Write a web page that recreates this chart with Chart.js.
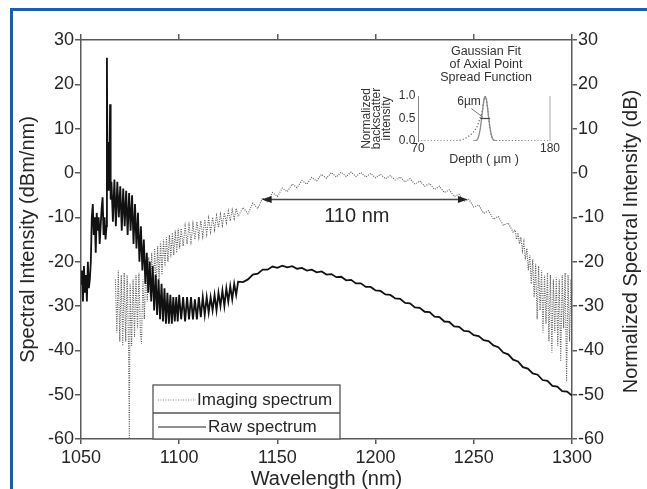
<!DOCTYPE html>
<html>
<head>
<meta charset="utf-8">
<title>Spectrum</title>
<script src="https://cdn.jsdelivr.net/npm/chart.js@4.4.1/dist/chart.umd.min.js"></script>
<style>
  html, body { margin: 0; padding: 0; background: #fff; }
  #wrap { position: relative; width: 647px; height: 489px; overflow: hidden; background: #fff; }
  #frame { position: absolute; left: 10px; top: 8px; right: -10px; bottom: -10px;
           border-top: 3px solid #1d5ea6; border-left: 3px solid #1d5ea6; }
  #main { position: absolute; left: 0; top: 0; }
  #inset { position: absolute; left: 350px; top: 40px; }
</style>
</head>
<body>
<div id="wrap">
  <div id="frame"></div>
  <canvas id="main" width="647" height="489"></canvas>
  <canvas id="inset" width="215" height="132"></canvas>
</div>
<script>
// Main plot: wavelength axis and tick labels
const xTicks = [1050, 1100, 1150, 1200, 1250, 1300];
const yTicks = [-60, -50, -40, -30, -20, -10, 0, 10, 20, 30];

// Raw spectrum (solid black)
const rawNm = [
  1050, 1050.5, 1051, 1051.5, 1052, 1052.5, 1053, 1053.5, 1054, 1054.5,
  1055, 1055.5, 1056, 1056.5, 1057, 1057.5, 1058, 1058.5,
  1059, 1059.5, 1060, 1060.5, 1061, 1061.5, 1062, 1062.5,
  1063, 1063.2, 1063.5, 1063.8, 1064.1, 1064.5, 1064.8, 1065.1,
  1065.5, 1066.25, 1067, 1067.75, 1068.5, 1069.25, 1070, 1070.75, 1071.5,
  1072.25, 1073, 1073.75, 1074.5, 1075.25, 1076, 1076.75, 1077.5, 1078.25,
  1079, 1079.75, 1080.5, 1081.25, 1082, 1082.75, 1083.5, 1084.25, 1085,
  1085.75, 1086.5, 1087.25, 1088, 1088.75, 1089.5, 1090.25, 1091, 1091.75, 1092.5,
  1093.25, 1094, 1094.75, 1095.5, 1096.25, 1097, 1097.75, 1098.5, 1099.25, 1100,
  1101, 1102, 1103, 1104, 1105, 1106, 1107, 1108, 1109, 1110,
  1111, 1112, 1113, 1114, 1115, 1116, 1117, 1118, 1119, 1120,
  1121, 1122, 1123, 1124, 1125, 1126, 1127, 1128, 1129, 1130,
  1132.5, 1135, 1137.5, 1140, 1142.5, 1145, 1147.5, 1150, 1152.5, 1155,
  1157.5, 1160, 1162.5, 1165, 1167.5, 1170, 1172.5, 1175, 1177.5, 1180,
  1182.5, 1185, 1187.5, 1190, 1192.5, 1195, 1197.5, 1200, 1202.5, 1205,
  1207.5, 1210, 1212.5, 1215, 1217.5, 1220, 1222.5, 1225, 1227.5, 1230,
  1232.5, 1235, 1237.5, 1240, 1242.5, 1245, 1247.5, 1250, 1252.5, 1255,
  1257.5, 1260, 1262.5, 1265, 1267.5, 1270, 1272.5, 1275, 1277.5, 1280,
  1282.5, 1285, 1287.5, 1290, 1292.5, 1295, 1297.5, 1300
];
const rawDb = [
  -25, -22, -29, -21, -27, -23, -29, -20, -26, -24,
  -20, -10, -7, -14, -10, -18, -9, -13,
  -10, -16, -12, -8, -5.5, -14, -10, -15,
  -12, 26, -3, 7, -4, 2, 15.5, -6,
  -2, -11, -1.5, -12, -2, -10, -3, -13, -3.5,
  -12, -4, -14, -4.5, -13, -5, -16, -7, -17,
  -9, -20, -12, -22, -15, -25, -18, -27, -20,
  -29, -21, -31, -23, -32, -24, -33, -25, -33.5, -26,
  -34, -27, -34, -27.5, -34, -28, -33.5, -28, -33.5, -27.5,
  -33, -28, -33.5, -28, -33, -28, -33, -28.5, -33, -28,
  -32.5, -28, -32, -28, -31.5, -28, -31, -27.5, -31, -27,
  -30, -26.5, -30, -26, -29, -25.5, -28.5, -25, -27.5, -24.5,
  -24.6, -24.0, -22.9, -22.7, -21.8, -21.8, -21.1, -21.4, -20.9, -21.3,
  -21.0, -21.6, -21.4, -22.0, -21.8, -22.4, -22.2, -22.9, -22.8, -23.5,
  -23.4, -24.2, -24.1, -24.9, -24.9, -25.7, -25.7, -26.5, -26.6, -27.4,
  -27.5, -28.3, -28.4, -29.3, -29.4, -30.3, -30.4, -31.3, -31.4, -32.4,
  -32.5, -33.5, -33.6, -34.6, -34.7, -35.6, -35.7, -36.6, -36.8, -37.7,
  -37.9, -38.9, -39.3, -40.5, -40.9, -42.1, -42.5, -43.8, -44.1, -45.2,
  -45.5, -46.7, -46.9, -48.0, -48.2, -49.2, -49.3, -50.2
];

// Imaging spectrum (dotted grey)
const imgNm = [
  1067.5, 1068.25, 1069, 1069.75, 1070.5, 1071.25, 1072, 1072.75, 1073.5, 1074.25, 1074.6,
  1075, 1075.75, 1076.5, 1077.25, 1078, 1078.75, 1079.5, 1080.25, 1080.8, 1081.5, 1082.25,
  1083, 1083.75, 1084.5, 1085.25, 1086, 1086.75, 1087.5, 1088.25, 1089, 1089.75, 1090.5, 1091.25,
  1092, 1092.75, 1093.5, 1094.25, 1095, 1095.75, 1096.5, 1097.25, 1098, 1098.75, 1099.5, 1100.25,
  1101, 1102, 1103, 1104, 1105, 1106, 1107, 1108, 1109, 1110,
  1111, 1112, 1113, 1114, 1115, 1116, 1117, 1118, 1119, 1120,
  1121, 1122, 1123, 1124, 1125, 1126, 1127, 1128, 1129, 1130,
  1132.5, 1135, 1137.5, 1140, 1142.5, 1145, 1147.5, 1150, 1152.5, 1155,
  1157.5, 1160, 1162.5, 1165, 1167.5, 1170, 1172.5, 1175, 1177.5, 1180,
  1182.5, 1185, 1187.5, 1190, 1192.5, 1195, 1197.5, 1200, 1202.5, 1205,
  1207.5, 1210, 1212.5, 1215, 1217.5, 1220, 1222.5, 1225, 1227.5, 1230,
  1232.5, 1235, 1237.5, 1240, 1242.5, 1245, 1247.5, 1250, 1252.5, 1255,
  1257.5, 1260, 1262.5, 1265, 1267.5, 1270,
  1271, 1271.75, 1272.5, 1273.25, 1274, 1274.75, 1275.5, 1276.25, 1277, 1277.75,
  1278.5, 1279.25, 1280, 1280.75, 1281.5, 1282.25, 1283, 1283.75, 1284.5, 1285.25,
  1286, 1286.75, 1287.5, 1288.25, 1289, 1289.75, 1290.5, 1291.25, 1292, 1292.75,
  1293.5, 1294.25, 1295, 1295.75, 1296.5, 1297.25, 1298, 1298.75, 1299.5, 1300
];
const imgDb = [
  -24, -36, -22, -38, -23, -39, -22.5, -38, -23, -40, -60,
  -25, -39, -24, -37, -23, -35, -22.5, -36, -38.5, -24, -33,
  -21, -29, -19, -28, -18, -27, -17, -26, -16.5, -24, -15.5, -23,
  -15, -21, -14.5, -20, -14, -19, -13.5, -18.5, -13, -18, -12.5, -17,
  -12.5, -16.5, -12, -16, -11.8, -15.5, -11.5, -15, -11, -14.5,
  -10.8, -14.3, -10.5, -13.8, -10.2, -13.3, -10, -12.8, -9.6, -12.3,
  -9.3, -11.8, -9, -11.2, -8.6, -10.8, -8.3, -10.3, -8, -9.8,
  -7.8, -9.2, -6.8, -8.0, -5.6, -6.6, -4.4, -5.3, -3.4, -4.2,
  -2.5, -3.3, -1.7, -2.5, -1.0, -1.8, -0.3, -1.2, 0.1, -0.9,
  0.2, -0.8, 0.2, -0.8, 0.1, -0.9, -0.1, -1.1, -0.3, -1.3,
  -0.6, -1.6, -0.9, -2.0, -1.3, -2.5, -1.8, -3.0, -2.4, -3.7,
  -3.0, -4.4, -3.8, -5.3, -4.8, -6.4, -5.9, -7.7, -7.2, -9.1,
  -8.5, -10.4, -9.8, -11.8, -11.3, -13.3,
  -12.8, -15, -13.5, -16, -14.5, -17.5, -15.5, -19.5, -17, -22,
  -18.5, -25, -19.5, -28, -20.5, -33, -21, -31, -22, -36,
  -23, -34, -22.5, -38, -23, -40.5, -24, -36, -23.5, -39,
  -24, -42.5, -23, -35, -22.5, -47, -23, -38, -24, -31
];

// Bandwidth arrow (nm ends, level in dB) and its label
const arrowNm = [1142, 1247];
const arrowDb = -6;
const arrowLabel = '110 nm';

// Inset: axial point spread function
const insetXTicks = [70, 180];
const insetYTicks = [0, 0.5, 1];
const fitDepth = [116, 118, 119, 120, 121, 122, 123, 124, 125, 126, 127, 128, 129, 130, 131, 132, 133, 134, 136];
const fitValue = [0, 0.01, 0.02, 0.06, 0.15, 0.29, 0.5, 0.73, 0.93, 1.0, 0.93, 0.73, 0.5, 0.29, 0.15, 0.06, 0.02, 0.01, 0];
const measDepth = [70, 100, 104, 108, 111, 114, 117, 119, 121, 122, 123, 124, 125, 126, 127, 128, 129, 130, 131, 132, 134, 180];
const measValue = [0, 0, 0.01, 0.04, 0.08, 0.14, 0.22, 0.3, 0.45, 0.53, 0.6, 0.74, 0.92, 1.0, 0.93, 0.72, 0.48, 0.27, 0.12, 0.05, 0.01, 0];
const fwhmDepth = [122, 130];
const insetTitle = ['Gaussian Fit', 'of Axial Point', 'Spread Function'];

const FONT = '"Liberation Sans", Arial, Helvetica, sans-serif';
const AXIS = '#5a5a5a';
const TEXT = '#262626';

function toPoints(xs, ys) {
    if (xs.length !== ys.length) console.warn('length mismatch', xs.length, ys.length);
    return xs.map((x, i) => ({ x: x, y: ys[i] }));
}
function fixWidth(w) { return function (scale) { scale.width = w; }; }
function fixHeight(h) { return function (scale) { scale.height = h; }; }
function setTicks(list) { return function (scale) { scale.ticks = list.map(v => ({ value: v })); }; }

// Legend box, arrow annotation and right-hand title
const mainNotes = {
    id: 'mainNotes',
    afterDraw(chart) {
        const ctx = chart.ctx;
        const xs = chart.scales.x, ys = chart.scales.y, area = chart.chartArea;
        ctx.save();

        // arrow
        const ya = ys.getPixelForValue(arrowDb);
        const x1 = xs.getPixelForValue(arrowNm[0]), x2 = xs.getPixelForValue(arrowNm[1]);
        ctx.strokeStyle = '#444';
        ctx.fillStyle = '#222';
        ctx.lineWidth = 1.5;
        ctx.beginPath(); ctx.moveTo(x1 + 4, ya); ctx.lineTo(x2 - 4, ya); ctx.stroke();
        ctx.beginPath(); ctx.moveTo(x1, ya); ctx.lineTo(x1 + 10, ya - 3.5); ctx.lineTo(x1 + 10, ya + 3.5); ctx.closePath(); ctx.fill();
        ctx.beginPath(); ctx.moveTo(x2, ya); ctx.lineTo(x2 - 10, ya - 3.5); ctx.lineTo(x2 - 10, ya + 3.5); ctx.closePath(); ctx.fill();
        ctx.fillStyle = TEXT;
        ctx.font = '20px ' + FONT;
        ctx.textAlign = 'center';
        ctx.textBaseline = 'middle';
        ctx.fillText(arrowLabel, (x1 + x2) / 2 - 8, ya + 17);

        // legend
        const lx = 153, rx = 340, ty = 385, my = 413, by = area.bottom;
        ctx.fillStyle = '#fff';
        ctx.fillRect(lx, ty, rx - lx, by - ty);
        ctx.strokeStyle = '#555';
        ctx.lineWidth = 1.3;
        ctx.strokeRect(lx, ty, rx - lx, by - ty);
        ctx.beginPath(); ctx.moveTo(lx, my); ctx.lineTo(rx, my); ctx.stroke();
        ctx.strokeStyle = '#888';
        ctx.lineWidth = 1.2;
        ctx.setLineDash([1, 1.5]);
        ctx.beginPath(); ctx.moveTo(158, 400); ctx.lineTo(196, 400); ctx.stroke();
        ctx.setLineDash([]);
        ctx.strokeStyle = '#222';
        ctx.beginPath(); ctx.moveTo(158, 427); ctx.lineTo(206, 427); ctx.stroke();
        ctx.fillStyle = TEXT;
        ctx.font = '17px ' + FONT;
        ctx.textAlign = 'left';
        ctx.fillText('Imaging spectrum', 197, 400);
        ctx.fillText('Raw spectrum', 208, 427);

        // right axis title, reading bottom to top like the left one
        ctx.translate(chart.scales.yRight.right - 16, (area.top + area.bottom) / 2 + 2);
        ctx.rotate(-Math.PI / 2);
        ctx.font = '20px ' + FONT;
        ctx.textAlign = 'center';
        ctx.fillText('Normalized Spectral Intensity (dB)', 0, 0);
        ctx.restore();
    }
};

const edgeGrid = (len) => ({ drawOnChartArea: false, drawTicks: true, tickLength: len, color: AXIS, lineWidth: 1.5 });
const edgeBorder = { display: true, color: AXIS, width: 1.5 };
const tickFont = { family: FONT, size: 18 };

new Chart(document.getElementById('main'), {
    type: 'line',
    data: {
        datasets: [{
            label: 'Raw spectrum',
            data: toPoints(rawNm, rawDb),
            borderColor: '#111',
            borderWidth: 1.8,
            pointRadius: 0,
            tension: 0
        }, {
            label: 'Imaging spectrum',
            data: toPoints(imgNm, imgDb),
            borderColor: '#575757',
            borderWidth: 1.1,
            borderDash: [1, 1.3],
            pointRadius: 0,
            tension: 0
        }]
    },
    options: {
        responsive: false,
        animation: false,
        events: [],
        layout: { padding: 0 },
        plugins: { legend: { display: false }, tooltip: { enabled: false } },
        scales: {
            x: {
                type: 'linear', position: 'bottom', min: 1050, max: 1300,
                afterBuildTicks: setTicks(xTicks), afterFit: fixHeight(50),
                grid: edgeGrid(5), border: edgeBorder,
                ticks: { padding: 3, color: TEXT, font: tickFont, maxRotation: 0, callback: v => String(v) },
                title: { display: true, text: 'Wavelength (nm)', color: TEXT,
                         font: { family: FONT, size: 20, lineHeight: 1 }, padding: { top: 0, bottom: 0 } }
            },
            xTop: {
                type: 'linear', position: 'top', min: 1050, max: 1300,
                afterBuildTicks: setTicks(xTicks), afterFit: fixHeight(40),
                grid: edgeGrid(6), border: edgeBorder,
                ticks: { display: false }
            },
            y: {
                type: 'linear', position: 'left', min: -60, max: 30,
                afterBuildTicks: setTicks(yTicks), afterFit: fixWidth(81),
                grid: edgeGrid(6), border: edgeBorder,
                ticks: { padding: 1, color: TEXT, font: tickFont, callback: v => String(v) },
                title: { display: true, text: 'Spectral Intensity (dBm/nm)', color: TEXT,
                         font: { family: FONT, size: 20, lineHeight: 1 }, padding: { top: 18, bottom: 0 } }
            },
            yRight: {
                type: 'linear', position: 'right', min: -60, max: 30,
                afterBuildTicks: setTicks(yTicks), afterFit: fixWidth(75),
                grid: edgeGrid(5), border: edgeBorder,
                ticks: { padding: 1, color: TEXT, font: tickFont, callback: v => String(v) }
            }
        }
    },
    plugins: [mainNotes]
});

// Inset annotations: title, right frame, half-maximum bar and the 6 µm label
const insetNotes = {
    id: 'insetNotes',
    afterDraw(chart) {
        const ctx = chart.ctx;
        const xs = chart.scales.x, ys = chart.scales.y, a = chart.chartArea;
        ctx.save();
        ctx.fillStyle = '#333';
        ctx.font = '12.5px ' + FONT;
        ctx.textAlign = 'center';
        ctx.textBaseline = 'middle';
        insetTitle.forEach((t, i) => ctx.fillText(t, (a.left + a.right) / 2 + 2, 12 + i * 13));

        ctx.strokeStyle = '#aaa';
        ctx.lineWidth = 1;
        ctx.beginPath(); ctx.moveTo(a.right, ys.getPixelForValue(0)); ctx.lineTo(a.right, ys.getPixelForValue(1)); ctx.stroke();

        ctx.strokeStyle = '#444';
        ctx.lineWidth = 1.2;
        const yh = ys.getPixelForValue(0.5);
        ctx.beginPath(); ctx.moveTo(xs.getPixelForValue(fwhmDepth[0]), yh); ctx.lineTo(xs.getPixelForValue(fwhmDepth[1]), yh); ctx.stroke();
        ctx.strokeStyle = '#777';
        ctx.lineWidth = 1;
        ctx.beginPath();
        ctx.moveTo(xs.getPixelForValue(114.5), ys.getPixelForValue(0.72));
        ctx.lineTo(xs.getPixelForValue(124), ys.getPixelForValue(0.53));
        ctx.stroke();
        ctx.fillStyle = '#333';
        ctx.font = '12px ' + FONT;
        ctx.fillText('6µm', xs.getPixelForValue(112.5), ys.getPixelForValue(0.88));
        ctx.restore();
    }
};

const insetFont = { family: FONT, size: 12 };

new Chart(document.getElementById('inset'), {
    type: 'line',
    data: {
        datasets: [{
            data: toPoints(fitDepth, fitValue),
            borderColor: '#8c8c8c',
            borderWidth: 1.3,
            pointRadius: 0,
            tension: 0
        }, {
            data: toPoints(measDepth, measValue),
            borderColor: '#6e6e6e',
            borderWidth: 1.3,
            borderDash: [1.2, 2],
            pointRadius: 0,
            tension: 0
        }]
    },
    options: {
        responsive: false,
        animation: false,
        events: [],
        layout: { padding: { top: 56, right: 15, left: 0, bottom: 0 } },
        plugins: { legend: { display: false }, tooltip: { enabled: false } },
        scales: {
            x: {
                type: 'linear', min: 70, max: 180,
                afterBuildTicks: setTicks(insetXTicks), afterFit: fixHeight(31),
                grid: { display: false, drawTicks: false }, border: { display: false },
                ticks: { padding: 0, color: '#333', font: insetFont, maxRotation: 0, callback: v => String(v) },
                title: { display: true, text: 'Depth ( µm )', color: '#333',
                         font: { family: FONT, size: 12.5, lineHeight: 1 }, padding: { top: 0, bottom: 6 } }
            },
            y: {
                type: 'linear', min: 0, max: 1,
                afterBuildTicks: setTicks(insetYTicks), afterFit: fixWidth(68),
                grid: { display: false, drawTicks: false },
                border: { display: true, color: '#888', width: 1, dash: [1, 2] },
                ticks: { padding: 2.5, color: '#333', font: insetFont, callback: v => v.toFixed(1) },
                title: { display: true, text: ['Normalized', 'backscatter', 'intensity'], color: '#333',
                         font: { family: FONT, size: 12, lineHeight: 0.85 }, padding: { top: 11.5, bottom: 0 } }
            }
        }
    },
    plugins: [insetNotes]
});
</script>
</body>
</html>
